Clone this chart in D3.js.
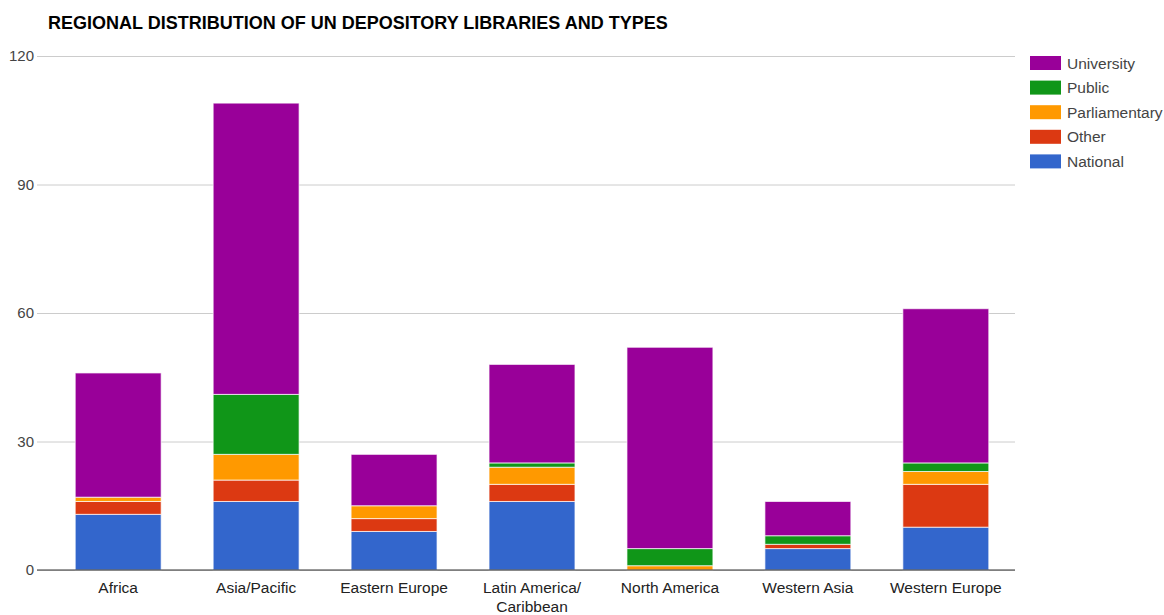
<!DOCTYPE html>
<html>
<head>
<meta charset="utf-8">
<script src="https://cdn.jsdelivr.net/npm/d3@7"></script>
<style>
  body { margin: 0; background: #fff; }
  text { font-family: Arial, "Liberation Sans", sans-serif; }
</style>
</head>
<body>
<div id="chart"></div>
<script>
const regions = ['Africa', 'Asia/Pacific', 'Eastern Europe', 'Latin America/ Caribbean',
  'North America', 'Western Asia', 'Western Europe'];
const types = ['National', 'Other', 'Parliamentary', 'Public', 'University'];
const national = [13, 16, 9, 16, 0, 5, 10];
const other = [3, 5, 3, 4, 0, 1, 10];
const parliamentary = [1, 6, 3, 4, 1, 0, 3];
const publicLib = [0, 14, 0, 1, 4, 2, 2];
const university = [29, 68, 12, 23, 47, 8, 36];
const yTicks = [0, 30, 60, 90, 120];
const colors = ['#3366cc', '#dc3912', '#ff9900', '#109618', '#990099'];

const width = 1164, height = 615;
const margin = { top: 56, right: 149, bottom: 45, left: 49 };
const innerW = width - margin.left - margin.right;
const innerH = height - margin.top - margin.bottom;

const rows = regions.map((r, i) => ({
  region: r,
  National: national[i],
  Other: other[i],
  Parliamentary: parliamentary[i],
  Public: publicLib[i],
  University: university[i],
}));

const svg = d3.select('#chart').append('svg')
  .attr('width', width)
  .attr('height', height);

svg.append('text')
  .attr('x', 48)
  .attr('y', 29)
  .attr('font-size', 18)
  .attr('font-weight', 'bold')
  .attr('fill', '#000')
  .text('REGIONAL DISTRIBUTION OF UN DEPOSITORY LIBRARIES AND TYPES');

const g = svg.append('g')
  .attr('transform', `translate(${margin.left},${margin.top})`);

const x = d3.scaleBand().domain(regions).range([0, innerW]).paddingInner(0.377).paddingOuter(0.19);
const y = d3.scaleLinear().domain([0, 120]).range([innerH, 0]);
const color = d3.scaleOrdinal().domain(types).range(colors);

// gridlines + tick labels
const yAxis = g.append('g')
  .call(d3.axisLeft(y).tickValues(yTicks).tickSize(-(innerW + 12)).tickFormat(d3.format('d')));
yAxis.select('.domain').remove();
yAxis.selectAll('.tick line').attr('stroke', '#cccccc').attr('x1', -12).attr('x2', innerW);
yAxis.selectAll('.tick text')
  .attr('x', -15)
  .attr('dy', '0.32em')
  .attr('font-size', 15)
  .attr('fill', '#444');

const stack = d3.stack().keys(types);
const series = stack(rows);

g.append('g').selectAll('g')
  .data(series)
  .join('g')
  .attr('fill', (d) => color(d.key))
  .selectAll('rect')
  .data((d) => d.filter((v) => v[1] - v[0] > 0))
  .join('rect')
  .attr('x', (d) => x(d.data.region))
  .attr('y', (d) => y(d[1]))
  .attr('width', x.bandwidth())
  .attr('height', (d) => y(d[0]) - y(d[1]))
  .attr('stroke', '#ffffff')
  .attr('stroke-opacity', 0.7)
  .attr('stroke-width', 1);

// baseline
g.append('line')
  .attr('x1', -12).attr('x2', innerW)
  .attr('y1', y(0)).attr('y2', y(0))
  .attr('stroke', '#333');

// x labels, "Latin America/ Caribbean" wraps after the slash
const xLabels = g.append('g').selectAll('text')
  .data(regions)
  .join('text')
  .attr('x', (d) => x(d) + x.bandwidth() / 2)
  .attr('y', innerH + 23)
  .attr('text-anchor', 'middle')
  .attr('font-size', 15.5)
  .attr('fill', '#222');
xLabels.each(function (d) {
  const lines = d.split('/ ').map((t, i, a) => (i < a.length - 1 ? t + '/' : t));
  lines.forEach((t, i) => {
    d3.select(this).append('tspan')
      .attr('x', x(d) + x.bandwidth() / 2)
      .attr('dy', i === 0 ? 0 : 19)
      .text(t);
  });
});

// legend
const legendTypes = types.slice().reverse();
const legend = svg.append('g')
  .attr('transform', 'translate(1030,56)');
legendTypes.forEach((t, i) => {
  const row = legend.append('g').attr('transform', `translate(0,${i * 24.6})`);
  row.append('rect')
    .attr('width', 31).attr('height', 14)
    .attr('fill', color(t));
  row.append('text')
    .attr('x', 37).attr('y', 12.5)
    .attr('font-size', 15.5)
    .attr('fill', '#444')
    .text(t);
});
</script>
</body>
</html>
